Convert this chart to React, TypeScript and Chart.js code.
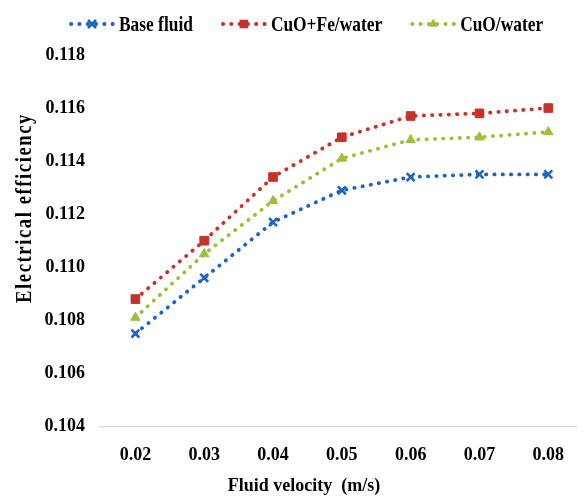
import { useEffect, useRef } from "react";
import { Chart, registerables } from "chart.js";

Chart.register(...registerables);

// Fluid velocity (m/s) on the x axis
const velocities = [0.02, 0.03, 0.04, 0.05, 0.06, 0.07, 0.08];

// Electrical efficiency for each working fluid
const baseFluid = [0.1075, 0.1096, 0.1117, 0.1129, 0.1134, 0.1135, 0.1135];
const cuoFeWater = [0.1088, 0.111, 0.1134, 0.1149, 0.1157, 0.1158, 0.116];
const cuoWater = [0.1081, 0.1105, 0.1125, 0.1141, 0.1148, 0.1149, 0.1151];

const yTicks = [0.104, 0.106, 0.108, 0.11, 0.112, 0.114, 0.116, 0.118];

const seriesNames = ["Base fluid", "CuO+Fe/water", "CuO/water"];
const seriesColors = ["#1E62C4", "#C8312B", "#9DC03B"];
const seriesMarkers = ["crossRot", "rect", "triangle"] as const;

const xTitle = "Fluid velocity  (m/s)";
const yTitle = "Electrical efficiency";

const SERIF = '"Liberation Serif", "Times New Roman", serif';

// x range leaves room on both sides of the first and last velocity
const X_MIN = 0.014857;
const X_MAX = 0.084143;

function drawMarker(
  ctx: CanvasRenderingContext2D,
  kind: string,
  x: number,
  y: number,
  color: string
) {
  ctx.save();
  ctx.setLineDash([]);
  ctx.fillStyle = color;
  ctx.strokeStyle = color;
  if (kind === "rect") {
    const h = 4.3;
    ctx.fillRect(x - h, y - h, 2 * h, 2 * h);
  } else if (kind === "triangle") {
    const r = 5.4;
    ctx.beginPath();
    ctx.moveTo(x, y - r);
    ctx.lineTo(x + r * 0.866, y + r * 0.5);
    ctx.lineTo(x - r * 0.866, y + r * 0.5);
    ctx.closePath();
    ctx.fill();
  } else {
    const o = 4;
    ctx.lineWidth = 2.6;
    ctx.lineCap = "butt";
    ctx.beginPath();
    ctx.moveTo(x - o, y - o);
    ctx.lineTo(x + o, y + o);
    ctx.moveTo(x + o, y - o);
    ctx.lineTo(x - o, y + o);
    ctx.stroke();
  }
  ctx.restore();
}

// Series key across the top plus both axis titles
const annotationsPlugin = {
  id: "keyAndTitles",
  afterDraw(chart: Chart) {
    const ctx = chart.ctx;
    ctx.save();
    ctx.fillStyle = "#000";

    // key
    const keyCondense = 0.79;
    let x = 69;
    const lineY = 24;
    const textBase = 31.3;
    ctx.font = `bold 22px ${SERIF}`;
    ctx.textBaseline = "alphabetic";
    ctx.textAlign = "left";
    seriesNames.forEach((name, i) => {
      const color = seriesColors[i];
      ctx.save();
      ctx.strokeStyle = color;
      ctx.lineWidth = 3.8;
      ctx.lineCap = "round";
      ctx.setLineDash([0.3, 8]);
      ctx.beginPath();
      ctx.moveTo(x + 2, lineY);
      ctx.lineTo(x + 44, lineY);
      ctx.stroke();
      ctx.restore();
      drawMarker(ctx, seriesMarkers[i], x + 23, lineY, color);

      const w = ctx.measureText(name).width * keyCondense;
      ctx.save();
      ctx.translate(x + 50, textBase);
      ctx.scale(keyCondense, 1);
      ctx.fillStyle = "#000";
      ctx.fillText(name, 0, 0);
      ctx.restore();
      x += 50 + w + 28;
    });

    // x axis title
    ctx.font = `bold 18px ${SERIF}`;
    ctx.textAlign = "center";
    ctx.textBaseline = "alphabetic";
    ctx.fillText(xTitle, 304, 491);

    // y axis title, spaced and condensed
    ctx.save();
    ctx.font = `bold 24px ${SERIF}`;
    (ctx as any).letterSpacing = "2px";
    const natural = ctx.measureText(yTitle).width;
    const s = 190 / natural;
    ctx.translate(30.5, 208);
    ctx.rotate(-Math.PI / 2);
    ctx.scale(s, 1);
    ctx.textAlign = "center";
    ctx.fillText(yTitle, 0, 0);
    ctx.restore();

    ctx.restore();
  },
};

export default function App() {
  const canvasRef = useRef<HTMLCanvasElement | null>(null);

  useEffect(() => {
    if (!canvasRef.current) return;
    const series = [baseFluid, cuoFeWater, cuoWater];
    const tickFont = { family: SERIF, size: 18, weight: "bold" as const };

    const chart = new Chart(canvasRef.current, {
      type: "line",
      data: {
        datasets: series.map((values, i) => ({
          label: seriesNames[i],
          data: velocities.map((v, j) => ({ x: v, y: values[j] })),
          borderColor: seriesColors[i],
          backgroundColor: seriesColors[i],
          borderWidth: 3.8,
          borderDash: [0.3, 8],
          borderCapStyle: "round" as const,
          pointStyle: seriesMarkers[i],
          pointRadius: seriesMarkers[i] === "crossRot" ? 5.6 : seriesMarkers[i] === "rect" ? 6.1 : 5.4,
          pointBorderWidth: seriesMarkers[i] === "crossRot" ? 2.6 : 1,
          pointBackgroundColor: seriesColors[i],
          pointBorderColor: seriesColors[i],
          tension: 0,
          fill: false,
        })),
      },
      options: {
        animation: false,
        responsive: true,
        maintainAspectRatio: false,
        layout: { padding: { left: 0, right: 0, top: 55, bottom: 17 } },
        plugins: {
          legend: { display: false },
          tooltip: { enabled: false },
        },
        scales: {
          x: {
            type: "linear",
            min: X_MIN,
            max: X_MAX,
            afterBuildTicks: (scale: any) => {
              scale.ticks = velocities.map((v) => ({ value: v }));
            },
            grid: { display: false, drawTicks: false },
            border: { display: true, color: "#d9d9d9", width: 1.2 },
            ticks: {
              padding: 18,
              color: "#000",
              font: tickFont,
              autoSkip: false,
              maxRotation: 0,
              callback: (v: any) => Number(v).toFixed(2),
            },
          },
          y: {
            type: "linear",
            min: 0.104,
            max: 0.118,
            afterBuildTicks: (scale: any) => {
              scale.ticks = yTicks.map((v) => ({ value: v }));
            },
            afterFit: (scale: any) => {
              scale.width = 100;
            },
            grid: { display: false, drawTicks: false },
            border: { display: false },
            ticks: {
              padding: 15,
              color: "#000",
              font: tickFont,
              callback: (v: any) => Number(v).toFixed(3),
            },
          },
        },
      },
      plugins: [annotationsPlugin],
    });

    return () => chart.destroy();
  }, []);

  return (
    <div
      style={{
        position: "fixed",
        left: 0,
        top: 0,
        width: 585,
        height: 501,
        background: "#fff",
      }}
    >
      <canvas ref={canvasRef} />
    </div>
  );
}
